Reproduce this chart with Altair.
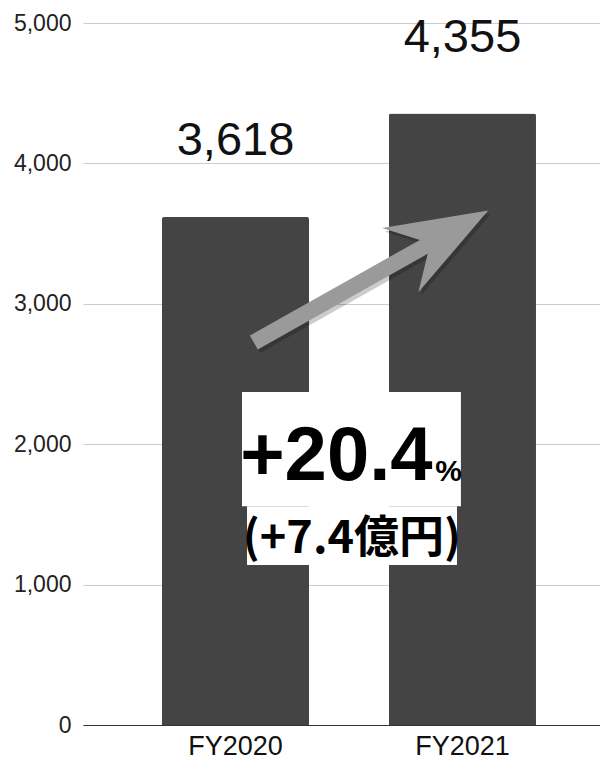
import altair as alt
import pandas as pd

# ---- data ----
years = ["FY2020", "FY2021"]
values = [3618, 4355]
value_labels = ["3,618", "4,355"]
y_ticks = [0, 1000, 2000, 3000, 4000, 5000]

# annotation positions: pos 0 = FY2020 centre, pos 1 = FY2021 centre; val in axis units
box_pos = [0.0286, 0.0507]
box_pos2 = [0.993, 0.9758]
box_top = [2372, 1558]
box_bottom = [1558, 1140]

growth_text = ["+20.4"]
growth_pos = [0.868]
growth_val = [1742]

pct_text = ["%"]
pct_pos = [0.880]
pct_val = [1735]

amount_text = ["(+7.4億円)"]
amount_pos = [0.513]
amount_val = [1225]

arrow_pos = [0.597]
arrow_val = [3194]

# ---- styling ----
W, H = 517, 702
ARROW = "M -1 -0.0595 L 0.45 -0.0595 L 0.249 -0.275 L 1 0 L 0.249 0.275 L 0.45 0.0595 L -1 0.0595 Z"
band_scale = alt.Scale(paddingInner=0.3524, paddingOuter=0.315, align=0.5524)
y_scale = alt.Scale(domain=[0, 5000], nice=False, zero=True)
pos_scale = alt.Scale(domain=[-0.67181, 1.6057], nice=False, zero=False)

x_axis = alt.Axis(title=None, labelAngle=0, labelFontSize=27,
                  labelFont="Liberation Sans", labelColor="#111111",
                  labelPadding=8, ticks=False, domainColor="#333333",
                  domainWidth=1.2, grid=False)
y_axis = alt.Axis(title=None, values=y_ticks, format=",.0f", labelFontSize=23,
                  labelFont="Liberation Sans", labelColor="#222222",
                  labelPadding=12, ticks=False, domain=False, grid=True,
                  gridColor="#cccccc", gridWidth=1)

bars_df = pd.DataFrame({"year": years, "value": values, "label": value_labels})

bars = alt.Chart(bars_df).mark_bar(
    color="#444444", cornerRadiusTopLeft=2, cornerRadiusTopRight=2
).encode(
    x=alt.X("year:N", sort=years, scale=band_scale, axis=x_axis),
    y=alt.Y("value:Q", scale=y_scale, axis=y_axis),
)

bar_text = alt.Chart(bars_df).mark_text(
    fontSize=47, font="Liberation Sans", dy=-62, baseline="alphabetic",
    align="center", color="#111111"
).encode(
    x=alt.X("year:N", sort=years, scale=band_scale, axis=x_axis),
    y=alt.Y("value:Q", scale=y_scale, axis=y_axis),
    text="label:N",
)

bar_layer = alt.layer(bars, bar_text)

box_df = pd.DataFrame({"pos": box_pos, "pos2": box_pos2, "top": box_top, "bottom": box_bottom})
boxes = alt.Chart(box_df).mark_rect(color="white", opacity=1).encode(
    x=alt.X("pos:Q", scale=pos_scale, axis=None),
    x2="pos2:Q",
    y=alt.Y("top:Q", scale=y_scale, axis=y_axis),
    y2="bottom:Q",
)

arrow_df = pd.DataFrame({"pos": arrow_pos, "val": arrow_val})
arrow_shadow = alt.Chart(arrow_df).mark_point(
    shape=ARROW, size=72361, angle=330.6, filled=True, fill="#000000",
    opacity=0.2, strokeWidth=0, xOffset=2.5, yOffset=3.5
).encode(
    x=alt.X("pos:Q", scale=pos_scale, axis=None),
    y=alt.Y("val:Q", scale=y_scale, axis=y_axis),
)
arrow = alt.Chart(arrow_df).mark_point(
    shape=ARROW, size=72361, angle=330.6, filled=True, fill="#9a9a9a",
    opacity=1, strokeWidth=0
).encode(
    x=alt.X("pos:Q", scale=pos_scale, axis=None),
    y=alt.Y("val:Q", scale=y_scale, axis=y_axis),
)

growth_df = pd.DataFrame({"pos": growth_pos, "val": growth_val, "t": growth_text})
growth = alt.Chart(growth_df).mark_text(
    font="Liberation Sans", fontWeight="bold", fontSize=76,
    align="right", baseline="alphabetic", color="#000000"
).encode(
    x=alt.X("pos:Q", scale=pos_scale, axis=None),
    y=alt.Y("val:Q", scale=y_scale, axis=y_axis),
    text="t:N",
)

pct_df = pd.DataFrame({"pos": pct_pos, "val": pct_val, "t": pct_text})
pct = alt.Chart(pct_df).mark_text(
    font="Liberation Sans", fontWeight="bold", fontSize=30,
    align="left", baseline="alphabetic", color="#000000"
).encode(
    x=alt.X("pos:Q", scale=pos_scale, axis=None),
    y=alt.Y("val:Q", scale=y_scale, axis=y_axis),
    text="t:N",
)

amount_df = pd.DataFrame({"pos": amount_pos, "val": amount_val, "t": amount_text})
amount = alt.Chart(amount_df).mark_text(
    font="Noto Sans CJK JP", fontWeight="bold", fontSize=45,
    align="center", baseline="alphabetic", color="#000000"
).encode(
    x=alt.X("pos:Q", scale=pos_scale, axis=None),
    y=alt.Y("val:Q", scale=y_scale, axis=y_axis),
    text="t:N",
)

anno_layer = alt.layer(boxes, arrow_shadow, arrow, growth, pct, amount)

chart = alt.layer(bar_layer, anno_layer).resolve_scale(x="independent").properties(
    width=W, height=H,
    padding={"left": 75, "top": 15, "right": 0, "bottom": 36},
    autosize=alt.AutoSizeParams(type="none"),
    background="white",
).configure_view(stroke=None)

chart.save("out.html", embed_options={"renderer": "svg", "actions": False})
